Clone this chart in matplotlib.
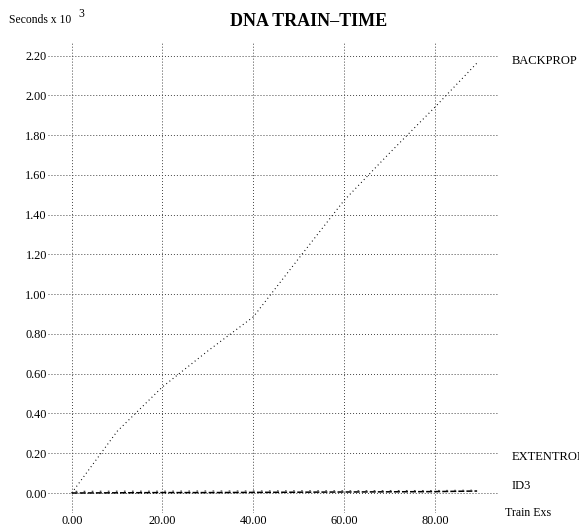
import matplotlib
matplotlib.use('Agg')
import matplotlib.pyplot as plt

plt.rcParams['font.family'] = ['Liberation Serif', 'DejaVu Serif']
plt.rcParams['lines.scale_dashes'] = False

# values (seconds x 10^3)
train_exs = [0, 10, 20, 30, 40, 50, 60, 70, 80, 89.3]
backprop = [0.0, 0.31, 0.534, 0.715, 0.886, 1.18, 1.472, 1.71, 1.941, 2.164]
extentron = [0.0, 0.001, 0.002, 0.002, 0.003, 0.004, 0.005, 0.006, 0.007, 0.010]
id3 = [0.0, 0.001, 0.001, 0.002, 0.002, 0.003, 0.003, 0.004, 0.004, 0.006]

x_ticks = [0, 20, 40, 60, 80]
y_ticks = [0.0, 0.2, 0.4, 0.6, 0.8, 1.0, 1.2, 1.4, 1.6, 1.8, 2.0, 2.2]

W, H = 579, 527
fig = plt.figure(figsize=(W / 100, H / 100), dpi=100)
ax = fig.add_axes([48 / W, 1 - 513 / H, 450 / W, 471 / H])

ax.plot(train_exs, backprop, color='black', lw=0.8, linestyle=(0, (0.7, 2.2)))
ax.plot(train_exs, extentron, color='black', lw=1.1, linestyle=(0, (4.3, 1.5)))
ax.plot(train_exs, [v + 0.008 for v in id3], color='#444444', lw=0.9,
        linestyle=(3, (1.2, 4.6)))

ax.set_xlim(-5.22, 93.9)
ax.set_ylim(-0.1006, 2.269)
ax.set_xticks(x_ticks)
ax.set_xticklabels(['%.2f' % v for v in x_ticks])
ax.set_yticks(y_ticks)
ax.set_yticklabels(['%.2f' % v for v in y_ticks])
ax.tick_params(length=0, labelsize=8.8)
ax.tick_params(axis='y', pad=0.8)
ax.tick_params(axis='x', pad=1.5)
for s in ax.spines.values():
    s.set_visible(False)
ax.grid(True, color='#444444', lw=0.7, linestyle=(0, (0.7, 1.45)))

fig.text(9 / W, 1 - 20 / H, 'Seconds x 10', fontsize=8.4, va='center', ha='left')
fig.text(78 / W, 1 - 14 / H, '3', fontsize=8.4, va='center', ha='left')
fig.text(309 / W, 1 - 21 / H, 'DNA TRAIN\u2013TIME', fontsize=13, fontweight='bold',
         ha='center', va='center')

fig.text(512 / W, 1 - 61 / H, 'BACKPROP', fontsize=9, va='center')
fig.text(512 / W, 1 - 457 / H, 'EXTENTRON', fontsize=9, va='center')
fig.text(512 / W, 1 - 486 / H, 'ID3', fontsize=9, va='center')
fig.text(505 / W, 1 - 513 / H, 'Train Exs', fontsize=8.6, va='center')

fig.savefig('out.png', dpi=100)
